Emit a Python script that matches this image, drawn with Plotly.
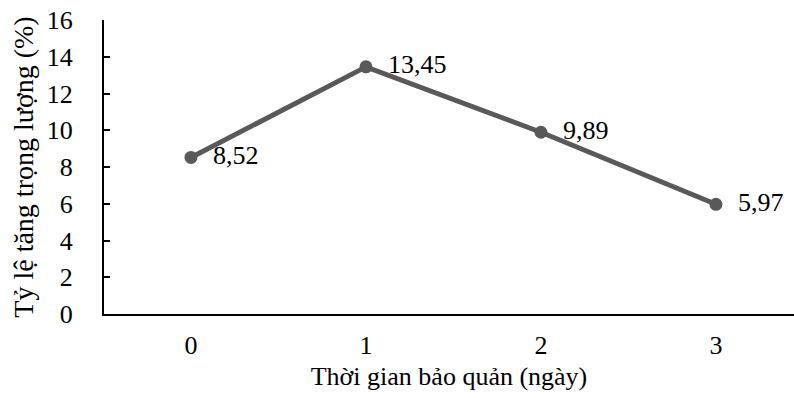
import plotly.graph_objects as go

# Storage time (days) and weight gain ratio (%)
days = ["0", "1", "2", "3"]
gain = [8.52, 13.45, 9.89, 5.97]
gain_labels = ["8,52", "13,45", "9,89", "5,97"]
y_ticks = [0, 2, 4, 6, 8, 10, 12, 14, 16]

font_family = "Liberation Serif, Times New Roman, serif"
line_color = "#595959"
fs = 26

fig = go.Figure()
fig.add_trace(go.Scatter(
    x=list(range(len(days))),
    y=gain,
    mode="lines+markers+text",
    line=dict(color=line_color, width=5),
    marker=dict(color=line_color, size=13),
    text=["  " + t for t in gain_labels],
    textposition="middle right",
    textfont=dict(family=font_family, size=fs, color="#000000"),
    showlegend=False,
    cliponaxis=False,
))

fig.update_layout(
    width=794,
    height=398,
    margin=dict(l=104, r=0, t=20, b=84),
    paper_bgcolor="white",
    plot_bgcolor="white",
    font=dict(family=font_family, size=fs, color="#000000"),
    xaxis=dict(
        range=[-0.497, 3.446],
        tickmode="array",
        tickvals=list(range(len(days))),
        ticktext=days,
        showgrid=False,
        zeroline=False,
        showline=True,
        linecolor="#000000",
        linewidth=2,
        ticks="",
        ticklabelstandoff=7,
        title=dict(text="Thời gian bảo quản (ngày)", standoff=8,
                   font=dict(family=font_family, size=fs)),
        tickfont=dict(family=font_family, size=fs),
    ),
    yaxis=dict(
        range=[0, 16],
        tickmode="array",
        tickvals=y_ticks,
        ticktext=[str(v) for v in y_ticks],
        showgrid=False,
        zeroline=False,
        showline=True,
        linecolor="#000000",
        linewidth=2,
        ticks="inside",
        ticklen=6,
        tickwidth=2,
        tickcolor="#000000",
        ticklabelstandoff=24,
        title=dict(text="Tỷ lệ tăng trọng lượng (%)", standoff=5,
                   font=dict(family=font_family, size=28)),
        tickfont=dict(family=font_family, size=fs),
    ),
)

fig.write_html("out.html")
